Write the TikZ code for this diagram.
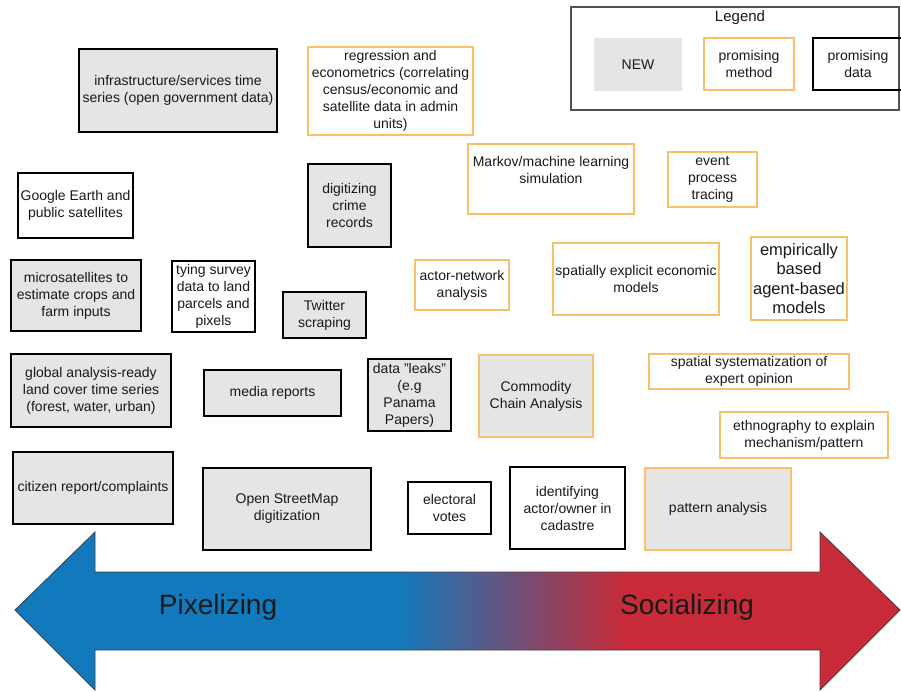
\documentclass[tikz,border=0pt]{standalone}
\usepackage{fontspec}
\setmainfont{Liberation Sans}
\usetikzlibrary{positioning}

\definecolor{ink}{RGB}{25,25,25}
\definecolor{newgray}{RGB}{229,229,229}
\definecolor{methodorange}{RGB}{248,192,104}
\definecolor{pxblue}{RGB}{18,121,188}
\definecolor{scred}{RGB}{200,42,56}
\definecolor{legendframe}{RGB}{80,80,80}

% blue plateau, short blend, red plateau (middle 25bp..75bp spans the arrow)
\pgfdeclarehorizontalshading{pixsoc}{100bp}{%
  color(0bp)=(pxblue); color(46.6bp)=(pxblue);
  color(59.5bp)=(scred); color(100bp)=(scred)}

\tikzset{
  card/.style={align=center, inner sep=2pt, text=ink,
    font=\fontsize{14}{17}\selectfont, line width=2.6pt},
  datacard/.style={card, draw=black},
  newdata/.style={datacard, fill=newgray},
  methodcard/.style={card, draw=methodorange},
  newmethod/.style={methodcard, fill=newgray},
  bigtext/.style={font=\fontsize{16.5}{19.5}\selectfont},
  armlabel/.style={text=ink, font=\fontsize{28}{32}\selectfont}
}

\begin{document}
\begin{tikzpicture}[x=1pt,y=-1pt]
\useasboundingbox (0,0) rectangle (901,692);
\clip (0,0) rectangle (901,692);

% legend
\node[draw=legendframe, line width=1.3pt, minimum width=328pt, minimum height=103pt] (legend) at (735,58.5) {};
\node[text=ink, font=\fontsize{15}{18}\selectfont] (legendtitle) at (740,18) {Legend};
\node[card, fill=newgray, draw=none, minimum width=88pt, minimum height=53pt] (lgnew) at (638,64.5) {NEW};
\node[methodcard, minimum width=90pt, minimum height=52pt] (lgmethod) at (749,64) {promising\\method};
\node[datacard, minimum width=90pt, minimum height=52pt] (lgdata) at (858,64) {promising\\data};

% cards
\node[newdata, minimum width=198pt, minimum height=83pt] (infra) at (178,90.5) {infrastructure/services time\\series (open government data)};
\node[methodcard, minimum width=165pt, minimum height=88pt] (regress) at (390.5,91) {regression and\\econometrics (correlating\\census/economic and\\satellite data in admin\\units)};
\node[datacard, minimum width=115pt, minimum height=65pt] (google) at (75.5,205.5) {Google Earth and\\public satellites};
\node[newdata, minimum width=83pt, minimum height=83pt] (crime) at (349.5,205.5) {digitizing\\crime\\records};
\node[methodcard, minimum width=166pt, minimum height=70pt] (markov) at (551,179) {Markov/machine learning\\simulation\\[2pt]};
\node[methodcard, minimum width=89pt, minimum height=55pt] (event) at (712.5,179.5) {event\\process\\tracing};
\node[newdata, minimum width=130pt, minimum height=71pt] (micro) at (76,295.5) {microsatellites to\\estimate crops and\\farm inputs};
\node[datacard, minimum width=83pt, minimum height=71pt] (tying) at (213.5,296.5) {tying survey\\data to land\\parcels and\\pixels};
\node[newdata, minimum width=83pt, minimum height=46pt] (twitter) at (324.5,315) {Twitter\\scraping};
\node[methodcard, minimum width=94pt, minimum height=50pt] (actor) at (462,285) {actor-network\\analysis};
\node[methodcard, minimum width=166pt, minimum height=72pt] (spatial) at (636,279) {spatially explicit economic\\models};
\node[methodcard, bigtext, minimum width=94pt, minimum height=83pt] (agent) at (799,278.5) {empirically\\based\\agent-based\\models};
\node[newdata, minimum width=160pt, minimum height=73pt] (landcover) at (91,390.5) {global analysis-ready\\land cover time series\\(forest, water, urban)};
\node[newdata, minimum width=137pt, minimum height=46pt] (media) at (272.5,393) {media reports};
\node[newdata, minimum width=83pt, minimum height=72pt] (leaks) at (409.5,395) {data "leaks"\\(e.g\\Panama\\Papers)};
\node[newmethod, minimum width=114pt, minimum height=82pt] (commodity) at (536,396) {Commodity\\Chain Analysis};
\node[methodcard, minimum width=200pt, minimum height=35pt] (expert) at (749,371.5) {spatial systematization of\\expert opinion};
\node[methodcard, minimum width=168pt, minimum height=46pt] (ethno) at (804,435) {ethnography to explain\\mechanism/pattern};
\node[newdata, minimum width=160pt, minimum height=72pt] (citizen) at (93,488) {citizen report/complaints};
\node[newdata, minimum width=168pt, minimum height=82pt] (osm) at (287,509) {Open StreetMap\\digitization};
\node[datacard, minimum width=83pt, minimum height=52pt] (votes) at (449.5,508) {electoral\\votes};
\node[datacard, minimum width=115pt, minimum height=82pt] (cadastre) at (567.5,508) {identifying\\actor/owner in\\cadastre};
\node[newmethod, minimum width=146pt, minimum height=82pt] (pattern) at (718,509) {pattern analysis};

% double-headed spectrum arrow
\coordinate (ltip) at (15,610);
\coordinate (rtip) at (900,610);
\shadedraw[shading=pixsoc, draw=black!75, line width=0.8pt, line join=miter]
  (ltip) -- (95,532) -- (95,572) -- (820,572) -- (820,532) -- (rtip)
  -- (820,690) -- (820,650) -- (95,650) -- (95,690) -- cycle;
\node[armlabel] (pixel) at (218,607) {Pixelizing};
\node[armlabel] (social) at (687,607) {Socializing};
\end{tikzpicture}
\end{document}
